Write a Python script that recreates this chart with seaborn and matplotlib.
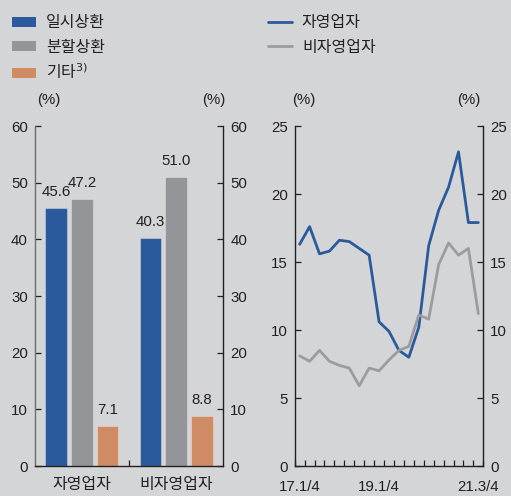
import numpy as np
import pandas as pd
import matplotlib
matplotlib.use("Agg")
import matplotlib.pyplot as plt
from matplotlib.patches import Patch
from matplotlib.lines import Line2D
import seaborn as sns

# Repayment type shares by borrower group (%)
groups = ["자영업자", "비자영업자"]
repay_types = ["일시상환", "분할상환", "기타$^{3)}$"]
bullet_share = [45.6, 40.3]
installment_share = [47.2, 51.0]
other_share = [7.1, 8.8]

# Quarterly series (%)
quarters = ["17.1/4", "17.2/4", "17.3/4", "17.4/4",
            "18.1/4", "18.2/4", "18.3/4", "18.4/4",
            "19.1/4", "19.2/4", "19.3/4", "19.4/4",
            "20.1/4", "20.2/4", "20.3/4", "20.4/4",
            "21.1/4", "21.2/4", "21.3/4"]
self_employed = [16.3, 17.6, 15.6, 15.8, 16.6, 16.5, 16.0, 15.5,
                 10.6, 9.9, 8.5, 8.0, 10.2, 16.2, 18.8, 20.5,
                 23.1, 17.9, 17.9]
non_self_employed = [8.1, 7.7, 8.5, 7.7, 7.4, 7.2, 5.9, 7.2,
                     7.0, 7.8, 8.5, 8.8, 11.1, 10.8, 14.8, 16.4,
                     15.5, 16.0, 11.2]
x_label_quarters = ["17.1/4", "19.1/4", "21.3/4"]

BLUE = "#2b5a9c"
GRAY = "#939598"
ORANGE = "#cf8b63"
LINE_GRAY = "#9b9c9e"
BG = "#d4d5d7"
INK = "#231f20"

sns.set_theme(style="ticks")
plt.rcParams["font.family"] = ["Liberation Sans", "Noto Sans CJK KR", "DejaVu Sans"]
plt.rcParams["axes.unicode_minus"] = False
KR = ["Noto Sans CJK KR", "DejaVu Sans"]

W, H = 511, 496
fig = plt.figure(figsize=(W / 100, H / 100), dpi=100, facecolor=BG)

def px_axes(left, top, right, bottom):
    return fig.add_axes([left / W, 1 - bottom / H, (right - left) / W, (bottom - top) / H])

ax1 = px_axes(34.7, 126, 223.3, 466)
ax2 = px_axes(294.7, 126, 483.3, 466)

TICK_FS = 10.8
for ax in (ax1, ax2):
    ax.set_facecolor(BG)
    ax.spines["top"].set_visible(False)
    for s in ("left", "right", "bottom"):
        ax.spines[s].set_visible(True)
        ax.spines[s].set_color(INK)
        ax.spines[s].set_linewidth(1.0)
    ax.tick_params(axis="y", which="both", direction="in", left=True, right=True,
                   labelleft=True, labelright=True, length=4.5, width=0.9,
                   color=INK, labelsize=TICK_FS, labelcolor=INK, pad=5)

# Bar chart
df_bar = pd.DataFrame({
    "group": groups * 3,
    "type": [repay_types[0]] * 2 + [repay_types[1]] * 2 + [repay_types[2]] * 2,
    "value": bullet_share + installment_share + other_share,
})
sns.barplot(data=df_bar, x="group", y="value", hue="type", hue_order=repay_types,
            order=groups, palette=[BLUE, GRAY, ORANGE], saturation=1,
            width=0.82, gap=0.17, edgecolor=(1, 1, 1, 0.3), linewidth=0.8,
            legend=False, ax=ax1)
for cont in ax1.containers:
    ax1.bar_label(cont, fmt="%.1f", padding=6.5, fontsize=TICK_FS, color=INK)
ax1.set_ylim(0, 60)
ax1.set_yticks(range(0, 61, 10))
ax1.set_xlim(-0.5, 1.5)
ax1.set_xticks([0, 1])
ax1.set_xticklabels(groups, fontsize=11.5, color=INK, family=KR)
ax1.tick_params(axis="x", which="major", length=0, pad=7.5)
ax1.set_xticks([0.5], minor=True)
ax1.tick_params(axis="x", which="minor", direction="in", length=4.5, width=0.9, color=INK)
ax1.spines["left"].set_color("#6e6e70")
ax1.set_xlabel("")
ax1.set_ylabel("")

# Line chart
xs = np.arange(len(quarters))
sns.lineplot(x=xs, y=self_employed, color=BLUE, linewidth=2.0, ax=ax2)
sns.lineplot(x=xs, y=non_self_employed, color=LINE_GRAY, linewidth=2.0, ax=ax2)
ax2.set_ylim(0, 25)
ax2.set_yticks(range(0, 26, 5))
ax2.set_xlim(-0.5, len(quarters) - 0.5)
ax2.set_xticks([quarters.index(q) for q in x_label_quarters])
ax2.set_xticklabels(x_label_quarters, fontsize=TICK_FS, color=INK)
ax2.tick_params(axis="x", which="major", length=0, pad=10)
ax2.set_xticks(np.arange(-0.5, len(quarters), 1.0), minor=True)
ax2.tick_params(axis="x", which="minor", direction="in", length=4.5, width=0.9, color=INK)
ax2.set_xlabel("")
ax2.set_ylabel("")

# Unit labels
for xp in (49, 214, 304, 469):
    fig.text(xp / W, 1 - 100 / H, "(%)", ha="center", va="center",
             fontsize=10.8, color=INK)

# Legends
bar_handles = [Patch(facecolor=c, edgecolor="none") for c in (BLUE, GRAY, ORANGE)]
fig.legend(bar_handles, repay_types, loc="upper left",
           bbox_to_anchor=(-2 / W, 1 - 0 / H), frameon=False,
           handlelength=1.5, handleheight=0.6, handletextpad=0.6,
           labelspacing=0.45, labelcolor=INK, prop={"family": KR, "size": 11.5})
line_handles = [Line2D([], [], color=BLUE, linewidth=2.0),
                Line2D([], [], color=LINE_GRAY, linewidth=2.0)]
fig.legend(line_handles, ["자영업자", "비자영업자"], loc="upper left",
           bbox_to_anchor=(254 / W, 1 - 0 / H), frameon=False,
           handlelength=1.5, handletextpad=0.6, labelspacing=0.45,
           labelcolor=INK, prop={"family": KR, "size": 11.5})

fig.savefig("out.png", dpi=100, facecolor=BG)
